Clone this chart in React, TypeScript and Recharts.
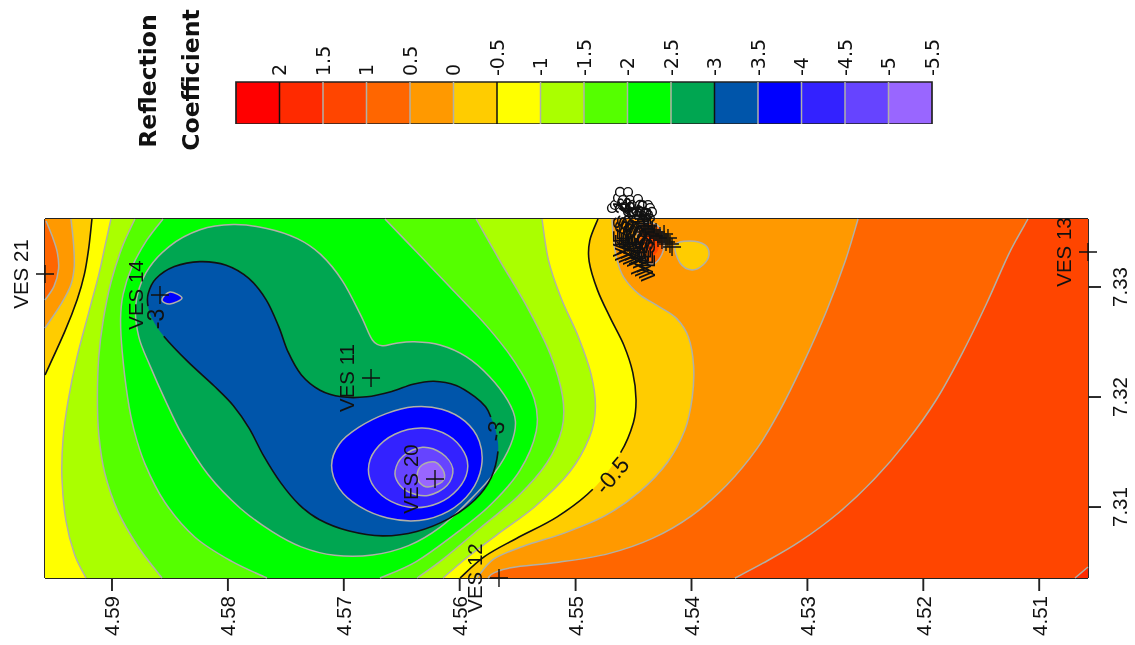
import { ReferenceArea, ReferenceLine, Scatter, ScatterChart, XAxis, YAxis } from "recharts";

type Pt = [number, number];

const lonMin = 4.50579;
const lonMax = 4.59578;
const latMin = 7.30355;
const latMax = 7.33618;

const lonTicks = [4.59, 4.58, 4.57, 4.56, 4.55, 4.54, 4.53, 4.52, 4.51];
const latTicks = [7.33, 7.32, 7.31];
const legendLevels = [2, 1.5, 1, 0.5, 0, -0.5, -1, -1.5, -2, -2.5, -3, -3.5, -4, -4.5, -5, -5.5];
const legendColors = [
  "#ff0000", "#ff2a00", "#ff4500", "#ff6600", "#ff9900", "#ffcc00", "#ffff00", "#aaff00",
  "#55ff00", "#00ff00", "#00a651", "#0055aa", "#0000ff", "#3322ff", "#6644ff", "#9966ff",
];
const boldLevels = [2, -0.5, -3];

// contour lines, [lon, lat]
const c15: Pt[] = [[4.50691, 7.30355], [4.50579, 7.30455]];
const c1: Pt[] = [[4.51097, 7.33618], [4.51252, 7.33355], [4.5145, 7.32836], [4.51658, 7.32409], [4.51882, 7.31955], [4.52141, 7.31591], [4.52417, 7.31245], [4.52719, 7.30945], [4.53064, 7.30673], [4.53409, 7.30473], [4.53625, 7.30355]];
const c05R: Pt[] = [[4.52563, 7.33618], [4.52658, 7.33264], [4.52831, 7.32773], [4.53038, 7.32291], [4.53254, 7.31836], [4.53409, 7.31545], [4.53694, 7.31182], [4.53987, 7.30909], [4.54332, 7.307], [4.54703, 7.30564], [4.55135, 7.30491], [4.55626, 7.30455], [4.55713, 7.304], [4.55756, 7.30355]];
const c05L: Pt[] = [[4.59569, 7.336], [4.59518, 7.33473], [4.59466, 7.33318], [4.59449, 7.33173], [4.59492, 7.32991], [4.59578, 7.32882]];
const c05Spot: Pt[] = [[4.54444, 7.33564], [4.54298, 7.33564], [4.54237, 7.33409], [4.54272, 7.33264], [4.54358, 7.33209], [4.54462, 7.33336]];
const c1Spot: Pt[] = [[4.54358, 7.335], [4.54289, 7.33445], [4.54289, 7.33336], [4.54341, 7.33291], [4.54401, 7.33382]];
const c0L: Pt[] = [[4.59354, 7.33618], [4.59328, 7.33382], [4.59319, 7.33173], [4.59345, 7.33018], [4.59423, 7.32864], [4.59578, 7.32627]];
const c0R: Pt[] = [[4.54686, 7.33618], [4.54677, 7.33427], [4.54643, 7.33227], [4.546, 7.33091], [4.5447, 7.32927], [4.54272, 7.32818], [4.54117, 7.32727], [4.54013, 7.32564], [4.5397, 7.32291], [4.53987, 7.31991], [4.54039, 7.317], [4.54186, 7.314], [4.54444, 7.31127], [4.54729, 7.30909], [4.55074, 7.30764], [4.5548, 7.30636], [4.55739, 7.30545], [4.55851, 7.30355]];
const c0Spot: Pt[] = [[4.54142, 7.33382], [4.54013, 7.33418], [4.53884, 7.33382], [4.53849, 7.33291], [4.53901, 7.332], [4.53996, 7.33155], [4.54099, 7.33218]];
const cm05L: Pt[] = [[4.59173, 7.33618], [4.59198, 7.33355], [4.59233, 7.33109], [4.59293, 7.329], [4.59388, 7.32627], [4.59578, 7.322]];
const cm05R: Pt[] = [[4.54807, 7.33618], [4.54893, 7.33409], [4.54902, 7.33264], [4.54815, 7.32955], [4.54703, 7.32718], [4.54574, 7.32473], [4.54496, 7.32227], [4.5447, 7.31955], [4.54487, 7.31791], [4.54574, 7.31518], [4.5485, 7.31127], [4.55135, 7.30909], [4.5554, 7.307], [4.55799, 7.30564], [4.55997, 7.30355]];
const cm1L: Pt[] = [[4.59009, 7.33618], [4.5906, 7.33382], [4.59104, 7.33136], [4.5919, 7.32809], [4.59319, 7.32318], [4.5938, 7.31973], [4.59431, 7.31609], [4.5944, 7.31273], [4.59406, 7.30855], [4.59328, 7.30545], [4.59224, 7.30355]];
const cm1R: Pt[] = [[4.5529, 7.33618], [4.55247, 7.33227], [4.55135, 7.329], [4.54962, 7.32536], [4.5485, 7.322], [4.54815, 7.31882], [4.5485, 7.31673], [4.55022, 7.31309], [4.55333, 7.31], [4.55713, 7.30727], [4.55937, 7.30545], [4.56144, 7.30355]];
const cm15L: Pt[] = [[4.58802, 7.33618], [4.58914, 7.33382], [4.59017, 7.33045], [4.59078, 7.327], [4.59121, 7.32382], [4.59129, 7.31973], [4.59121, 7.31673], [4.59078, 7.31309], [4.58957, 7.30945], [4.58784, 7.30636], [4.58569, 7.30355]];
const cm15R: Pt[] = [[4.55859, 7.33618], [4.55652, 7.33227], [4.55419, 7.32836], [4.55195, 7.32382], [4.55092, 7.31973], [4.55092, 7.31727], [4.55221, 7.314], [4.5548, 7.31091], [4.55825, 7.30818], [4.5617, 7.30491], [4.56368, 7.30355]];
const cm2L: Pt[] = [[4.5856, 7.33618], [4.58698, 7.33445], [4.58845, 7.33173], [4.58914, 7.32927], [4.58931, 7.32718], [4.58922, 7.32473], [4.58862, 7.31927], [4.58819, 7.31727], [4.58733, 7.314], [4.5856, 7.31036], [4.58301, 7.307], [4.57956, 7.30491], [4.57663, 7.30355]];
const cm2R: Pt[] = [[4.56645, 7.33618], [4.56403, 7.33355], [4.56023, 7.32927], [4.55764, 7.32655], [4.55506, 7.32318], [4.55324, 7.31955], [4.55307, 7.31727], [4.55454, 7.31309], [4.55739, 7.31], [4.55997, 7.30791], [4.56403, 7.30455], [4.56688, 7.30355]];
const cm25: Pt[] = [[4.57378, 7.33445], [4.57663, 7.33545], [4.57956, 7.33582], [4.58241, 7.33545], [4.58525, 7.33382], [4.58733, 7.33136], [4.58819, 7.32836], [4.58784, 7.32536], [4.58672, 7.32291], [4.58543, 7.31973], [4.58413, 7.31673], [4.5818, 7.31273], [4.57896, 7.30973], [4.57611, 7.30764], [4.57378, 7.30627], [4.57093, 7.30545], [4.56748, 7.30545], [4.56429, 7.30636], [4.5617, 7.30791], [4.55911, 7.31064], [4.55678, 7.31309], [4.5554, 7.31582], [4.55497, 7.31791], [4.55566, 7.31955], [4.55739, 7.322], [4.55937, 7.32382], [4.5617, 7.32491], [4.56403, 7.32509], [4.56576, 7.32491], [4.56662, 7.32455], [4.56757, 7.32473], [4.56834, 7.32718], [4.57007, 7.33082], [4.57205, 7.33318]];
const cm3: Pt[] = [[4.58698, 7.32927], [4.58646, 7.33082], [4.58474, 7.332], [4.58241, 7.33245], [4.58008, 7.33218], [4.57809, 7.33091], [4.57663, 7.329], [4.5755, 7.32627], [4.5749, 7.32409], [4.57378, 7.32182], [4.57205, 7.32045], [4.57033, 7.31991], [4.568, 7.31991], [4.56576, 7.32045], [4.56403, 7.32127], [4.5623, 7.32155], [4.56023, 7.32127], [4.55851, 7.31991], [4.55764, 7.31909], [4.55739, 7.31836], [4.55678, 7.31673], [4.55652, 7.31536], [4.55713, 7.31245], [4.55851, 7.31064], [4.56084, 7.30882], [4.56368, 7.30764], [4.56662, 7.30718], [4.56972, 7.30773], [4.57231, 7.30882], [4.57378, 7.31], [4.5755, 7.31218], [4.57697, 7.31455], [4.57809, 7.31727], [4.57956, 7.31936], [4.58094, 7.32082], [4.58353, 7.32318], [4.58586, 7.32582], [4.58655, 7.327], [4.58698, 7.32836]];
const cm35: Pt[] = [[4.57136, 7.31382], [4.57059, 7.31582], [4.56886, 7.31727], [4.56627, 7.31864], [4.56403, 7.31927], [4.56144, 7.31909], [4.55937, 7.31791], [4.55808, 7.31609], [4.5579, 7.31364], [4.55885, 7.31127], [4.56084, 7.30945], [4.56343, 7.30855], [4.56627, 7.30882], [4.56886, 7.31], [4.57059, 7.31155]];
const cm35Spot: Pt[] = [[4.585, 7.32955], [4.58396, 7.329], [4.585, 7.32845], [4.58569, 7.32882]];
const cm4: Pt[] = [[4.56808, 7.31336], [4.56757, 7.31518], [4.56576, 7.31682], [4.56317, 7.31745], [4.56084, 7.31673], [4.55937, 7.31491], [4.55911, 7.31336], [4.55997, 7.31155], [4.5617, 7.31018], [4.56403, 7.30973], [4.56601, 7.31036], [4.56757, 7.31173]];
const cm45: Pt[] = [[4.56576, 7.31318], [4.56515, 7.31473], [4.56317, 7.31582], [4.56144, 7.315], [4.56023, 7.31355], [4.56084, 7.31182], [4.56274, 7.31073], [4.56455, 7.31127], [4.56541, 7.31218]];
const cm5: Pt[] = [[4.56368, 7.31291], [4.56325, 7.31382], [4.56213, 7.31409], [4.56136, 7.31318], [4.56153, 7.31227], [4.56274, 7.31182], [4.56343, 7.31218]];

const cornerTL: Pt[] = [[lonMax, latMax]];
const cornerTR: Pt[] = [[lonMin, latMax]];
const cornerBR: Pt[] = [[lonMin, latMin]];
const cornerBL: Pt[] = [[lonMax, latMin]];

const rev = (pts: Pt[]) => [...pts].reverse();

const fills: { color: string; pieces: Pt[][]; closed?: boolean }[] = [
  { color: "#ff4500", pieces: [cornerTL, cornerTR, cornerBR, cornerBL] },
  { color: "#ff2a00", pieces: [c15, cornerBR] },
  { color: "#ff6600", pieces: [c1, cornerBL, cornerTL] },
  { color: "#ff9900", pieces: [c05R, cornerBL, rev(c05L), cornerTL] },
  { color: "#ffcc00", pieces: [c0R, cornerBL, rev(c0L)] },
  { color: "#ffcc00", pieces: [c0Spot], closed: true },
  { color: "#ff6600", pieces: [c05Spot], closed: true },
  { color: "#ff4500", pieces: [c1Spot], closed: true },
  { color: "#ffff00", pieces: [cm05R, cornerBL, rev(cm05L)] },
  { color: "#aaff00", pieces: [cm1R, rev(cm1L)] },
  { color: "#55ff00", pieces: [cm15R, rev(cm15L)] },
  { color: "#00ff00", pieces: [cm2R, rev(cm2L)] },
  { color: "#00a651", pieces: [cm25], closed: true },
  { color: "#0055aa", pieces: [cm3], closed: true },
  { color: "#0000ff", pieces: [cm35], closed: true },
  { color: "#0000ff", pieces: [cm35Spot], closed: true },
  { color: "#3322ff", pieces: [cm4], closed: true },
  { color: "#6644ff", pieces: [cm45], closed: true },
  { color: "#9966ff", pieces: [cm5], closed: true },
];

const GRAY = "#b0b0a8";
const BLACK = "#111";

// gaps = segments left open for the contour labels
const strokes: { pts: Pt[]; color: string; closed?: boolean; gaps?: number[] }[] = [
  { pts: c15, color: GRAY },
  { pts: c1, color: GRAY },
  { pts: c05R, color: GRAY },
  { pts: c05L, color: GRAY },
  { pts: c05Spot, color: GRAY, closed: true },
  { pts: c0L, color: GRAY },
  { pts: c0R, color: GRAY },
  { pts: c0Spot, color: GRAY, closed: true },
  { pts: cm05L, color: BLACK },
  { pts: cm05R, color: BLACK, gaps: [9] },
  { pts: cm1L, color: GRAY },
  { pts: cm1R, color: GRAY },
  { pts: cm15L, color: GRAY },
  { pts: cm15R, color: GRAY },
  { pts: cm2L, color: GRAY },
  { pts: cm2R, color: GRAY },
  { pts: cm25, color: GRAY, closed: true },
  { pts: cm3, color: BLACK, closed: true, gaps: [19, 20, 36, 37] },
  { pts: cm35, color: GRAY, closed: true },
  { pts: cm35Spot, color: GRAY, closed: true },
  { pts: cm4, color: GRAY, closed: true },
  { pts: cm45, color: GRAY, closed: true },
  { pts: cm5, color: GRAY, closed: true },
];

const stationNames = ["VES 21", "VES 14", "VES 11", "VES 20", "VES 12", "VES 13"];
const stationLon = [4.59578, 4.58586, 4.56765, 4.56213, 4.55661, 4.50579];
const stationLat = [7.33118, 7.32927, 7.32173, 7.31255, 7.30355, 7.33318];

const clusterNames = ["VES 1", "VES 2", "VES 3", "VES 4", "VES 5", "VES 6", "VES 7", "VES 8", "VES 9", "VES 10", "VES 15", "VES 16", "VES 17", "VES 18", "VES 19"];
const clusterLon = [4.5441, 4.54393, 4.54375, 4.54358, 4.54341, 4.54324, 4.54306, 4.54289, 4.54272, 4.54255, 4.54237, 4.5422, 4.54203, 4.54186, 4.54168];
const clusterLat = [7.33536, 7.335, 7.33555, 7.33482, 7.33518, 7.33464, 7.335, 7.33445, 7.33464, 7.33427, 7.33482, 7.33409, 7.33445, 7.33391, 7.33364];

// where each station's open circle sits, relative to its cross
const ringDx = [-32, -31, -30, -30, -29, -29, -28, -28, -27, -24, -24, -18, -18, -18, -26];
const ringDy = [-20, -27, -28, -42, -30, -29, -40, -38, -31, -41, -29, -37, -30, -32, -34];

const contourLabels = [
  { text: "-3", lon: 4.58621, lat: 7.32709, angle: -90 },
  { text: "-3", lon: 4.55695, lat: 7.31691, angle: -80 },
  { text: "-0.5", lon: 4.5469, lat: 7.3129, angle: -50 },
];

const stations = [
  ...stationNames.map((name, i) => ({ name, lon: stationLon[i], lat: stationLat[i] })),
  ...clusterNames.map((name, i) => ({ name, lon: clusterLon[i], lat: clusterLat[i] })),
];
const clusterRows = clusterNames.map((name, i) => ({ name, index: i, lon: clusterLon[i], lat: clusterLat[i] }));

const toRows = (pts: Pt[]) => pts.map(([lon, lat]) => ({ lon, lat }));

type XY = { x: number; y: number };

// my traced points are a little noisy, so relax them before drawing the spline
function relax(points: XY[], closed: boolean) {
  if (points.length < 8 && closed) return points;
  if (points.length < 4) return points;
  const n = points.length;
  return points.map((p, i) => {
    if (!closed && (i === 0 || i === n - 1)) return p;
    const a = points[(i - 1 + n) % n];
    const b = points[(i + 1) % n];
    return { x: p.x * 0.6 + (a.x + b.x) * 0.2, y: p.y * 0.6 + (a.y + b.y) * 0.2 };
  });
}

function bezierTo(pts: XY[], i: number, closed: boolean) {
  const n = pts.length;
  const at = (k: number) => (closed ? pts[(k + n) % n] : pts[Math.max(0, Math.min(n - 1, k))]);
  const p0 = at(i - 1);
  const p1 = at(i);
  const p2 = at(i + 1);
  const p3 = at(i + 2);
  const c1x = p1.x + (p2.x - p0.x) / 6;
  const c1y = p1.y + (p2.y - p0.y) / 6;
  const c2x = p2.x - (p3.x - p1.x) / 6;
  const c2y = p2.y - (p3.y - p1.y) / 6;
  return `C${c1x},${c1y} ${c2x},${c2y} ${p2.x},${p2.y}`;
}

function fillPath(points: XY[], pieces: Pt[][], closed: boolean) {
  if (closed) {
    const pts = relax(points, true);
    const segs = pts.map((_, i) => bezierTo(pts, i, true));
    return `M${pts[0].x},${pts[0].y}${segs.join("")}Z`;
  }
  let d = "";
  let start = 0;
  pieces.forEach((piece) => {
    const part = relax(points.slice(start, start + piece.length), false);
    d += `${d ? "L" : "M"}${part[0].x},${part[0].y}`;
    for (let i = 0; i < part.length - 1; i++) d += bezierTo(part, i, false);
    start += piece.length;
  });
  return `${d}Z`;
}

function strokePath(raw: XY[], closed: boolean, gaps: number[]) {
  const points = relax(raw, closed);
  const count = closed ? points.length : points.length - 1;
  let d = "";
  let pen = false;
  for (let i = 0; i < count; i++) {
    if (gaps.includes(i)) {
      pen = false;
      continue;
    }
    if (!pen) d += `M${points[i].x},${points[i].y}`;
    d += bezierTo(points, i, closed);
    pen = true;
  }
  return d;
}

const noPoint = () => <g />;

const BottomTick = ({ x, payload }: any) => (
  <text transform={`translate(${x},596) rotate(-90)`} dy="0.36em" textAnchor="end" fontSize={20.5} fill="#111" fontFamily="Liberation Sans">
    {payload.value.toFixed(2)}
  </text>
);

const RightTick = ({ y, payload }: any) => (
  <text transform={`translate(1120,${y}) rotate(-90)`} dy="0.36em" textAnchor="middle" fontSize={20.5} fill="#111" fontFamily="Liberation Sans">
    {payload.value.toFixed(2)}
  </text>
);

const LegendTick = ({ x, payload }: any) => (
  <text transform={`translate(${x},76) rotate(-90)`} dy="0.36em" textAnchor="start" fontSize={19} fill="#111" fontFamily="DejaVu Sans">
    {String(payload.value)}
  </text>
);

const StationMark = ({ cx, cy, payload }: any) => (
  <g>
    <path d={`M${cx - 9},${cy}H${cx + 9}M${cx},${cy - 9}V${cy + 9}`} stroke="#111" strokeWidth={1.4} fill="none" />
    <text
      transform={`translate(${cx - 24},${cy}) rotate(-90)`}
      dy="0.36em"
      textAnchor="middle"
      fontSize={20.5}
      fill="#111"
      fontFamily="Liberation Sans"
    >
      {payload.name}
    </text>
  </g>
);

const ClusterRing = ({ cx, cy, payload }: any) => (
  <circle cx={cx + ringDx[payload.index]} cy={cy + ringDy[payload.index]} r={4.4} fill="#fff" stroke="#111" strokeWidth={1.4} />
);

const ContourLabel = ({ cx, cy, payload }: any) => (
  <text
    transform={`translate(${cx},${cy}) rotate(${payload.angle})`}
    dy="0.36em"
    textAnchor="middle"
    fontSize={23}
    fill="#111"
    fontFamily="Liberation Sans"
  >
    {payload.text}
  </text>
);

export default function App() {
  return (
    <div style={{ position: "absolute", left: 0, top: 0, width: 1135, height: 645, background: "#fff", filter: "blur(0.4px)", overflow: "hidden" }}>
      <div style={{ position: "absolute", left: 0, top: 0 }}>
        <ScatterChart width={1135} height={645} margin={{ top: 0, right: 0, bottom: 0, left: 0 }}>
          {fills.map((region, i) => (
            <Scatter
              key={`fill-${i}`}
              data={toRows(region.pieces.flat())}
              shape={noPoint}
              isAnimationActive={false}
              line={(p: any) => <path d={fillPath(p.points, region.pieces, !!region.closed)} fill={region.color} stroke="none" />}
            />
          ))}
          {strokes.map((line, i) => (
            <Scatter
              key={`line-${i}`}
              data={toRows(line.pts)}
              shape={noPoint}
              isAnimationActive={false}
              line={(p: any) => (
                <path
                  d={strokePath(p.points, !!line.closed, line.gaps ?? [])}
                  fill="none"
                  stroke={line.color}
                  strokeWidth={line.color === BLACK ? 1.6 : 1.5}
                />
              )}
            />
          ))}
          <XAxis
            dataKey="lon"
            type="number"
            orientation="bottom"
            domain={[lonMin, lonMax]}
            reversed
            ticks={lonTicks}
            interval={0}
            height={67}
            tickSize={13}
            stroke="#222"
            strokeWidth={1.9}
            tick={BottomTick}
          />
          <XAxis
            xAxisId="top"
            dataKey="lon"
            type="number"
            orientation="top"
            domain={[lonMin, lonMax]}
            reversed
            ticks={lonTicks}
            interval={0}
            height={219}
            tickSize={13}
            stroke="#222"
            strokeWidth={1.9}
            tickFormatter={() => ""}
          />
          <YAxis
            dataKey="lat"
            type="number"
            orientation="right"
            domain={[latMin, latMax]}
            ticks={latTicks}
            interval={0}
            width={47}
            tickSize={13}
            stroke="#222"
            strokeWidth={1.9}
            tick={RightTick}
          />
          <YAxis
            yAxisId="left"
            dataKey="lat"
            type="number"
            orientation="left"
            domain={[latMin, latMax]}
            ticks={latTicks}
            interval={0}
            width={45}
            tickSize={13}
            stroke="#222"
            strokeWidth={1.9}
            tickFormatter={() => ""}
          />
          <Scatter data={clusterRows} shape={ClusterRing} isAnimationActive={false} />
          <Scatter data={stations} shape={StationMark} isAnimationActive={false} />
          <Scatter data={contourLabels} shape={ContourLabel} isAnimationActive={false} />
        </ScatterChart>
      </div>
      <div style={{ position: "absolute", left: 0, top: 0 }}>
        <ScatterChart width={1135} height={124} margin={{ top: 0, right: 203, bottom: 0, left: 236 }}>
          <XAxis
            type="number"
            dataKey="level"
            orientation="top"
            domain={[-5.5, 2.5]}
            allowDataOverflow
            reversed
            ticks={legendLevels}
            interval={0}
            height={82}
            axisLine={false}
            tickLine={false}
            tick={LegendTick}
          />
          <YAxis type="number" dataKey="y" domain={[0, 1]} allowDataOverflow hide />
          {legendLevels.map((level, i) => (
            <ReferenceArea key={level} x1={level + 0.5} x2={level} y1={0} y2={1} fill={legendColors[i]} fillOpacity={1} stroke="none" />
          ))}
          {legendLevels.slice(0, -1).map((level) => (
            <ReferenceLine key={level} x={level} stroke={boldLevels.includes(level) ? BLACK : GRAY} strokeWidth={1.5} />
          ))}
          <ReferenceArea x1={2.5} x2={-5.5} y1={0} y2={1} fill="none" stroke="#222" strokeWidth={1.7} />
        </ScatterChart>
      </div>
      <svg width={1135} height={160} style={{ position: "absolute", left: 0, top: 0, pointerEvents: "none" }}>
        <text transform="translate(148,81) rotate(-90)" dy="0.36em" textAnchor="middle" fontSize={23.5} fontWeight="bold" fontFamily="DejaVu Sans" fill="#111">
          Reflection
        </text>
        <text transform="translate(191,80) rotate(-90)" dy="0.36em" textAnchor="middle" fontSize={23.5} fontWeight="bold" fontFamily="DejaVu Sans" fill="#111">
          Coefficient
        </text>
      </svg>
    </div>
  );
}
